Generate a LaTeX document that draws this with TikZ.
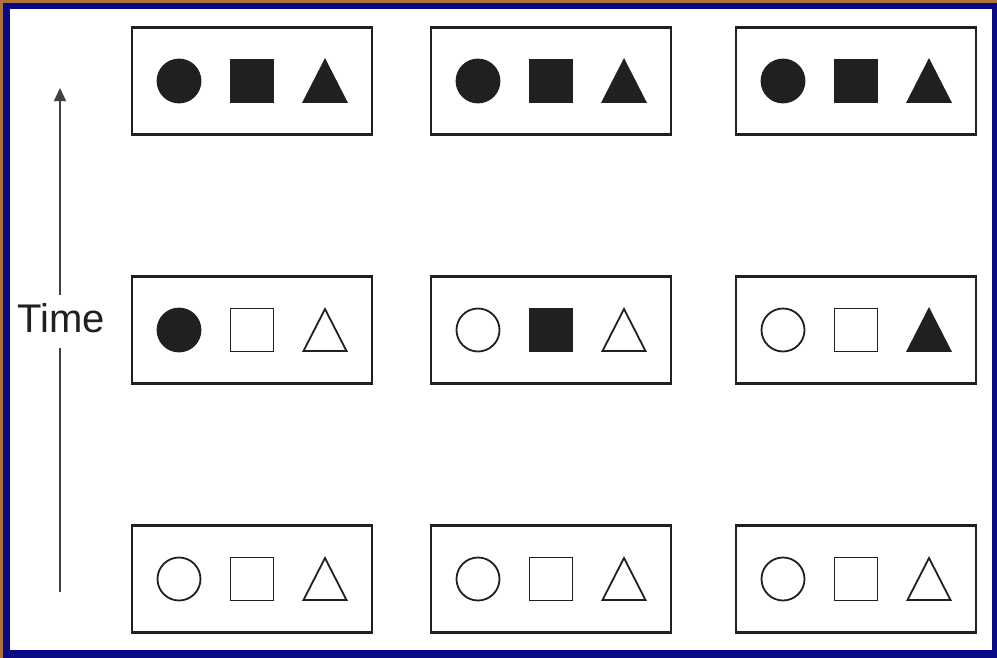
\documentclass[tikz,border=0pt]{standalone}
\usepackage{fontspec}
\setmainfont{Liberation Sans}
\usetikzlibrary{arrows.meta}
\definecolor{frameblue}{HTML}{0A0A86}
\definecolor{frameorange}{HTML}{B0733A}
\definecolor{ink}{HTML}{202020}
\begin{document}
\begin{tikzpicture}[x=1pt,y=-1pt,
  panel/.style={draw=ink,line width=2.2pt,minimum width=240pt,minimum height=107pt,inner sep=0pt},
  shp/.style={draw=ink,line width=1.8pt,inner sep=0pt},
  full/.style={fill=ink},
  empty/.style={fill=white},
  ccl/.style={shp,circle,minimum size=43pt},
  sqr/.style={shp,rectangle,minimum size=43pt},
  timelbl/.style={font=\fontsize{40}{44}\selectfont,text=ink,inner sep=0pt,text height=29pt,text depth=0pt},
  timeline/.style={draw=ink!85,line width=1.2pt}]
\useasboundingbox (0,0) rectangle (997,657);
% frame
\fill[frameblue] (-2,-2) rectangle (999,659);
\fill[frameorange] (-2,-2) rectangle (999,3);
\fill[frameorange] (-2,-2) rectangle (3,659);
\fill[white] (10,9) rectangle (992,650);
\tikzset{tri/.pic={\path[shp,pic actions] (-21.5,21) -- (0,-21) -- (21.5,21) -- cycle;}}
% panels
\foreach \cx/\nm in {252/a,551/b,856/c}{
  \foreach \cy/\r in {81/t,330/m,579/l}{
    \node[panel] (p\nm\r) at (\cx,\cy) {};
  }
}
\newcommand{\shapes}[4]{%
  \node[ccl,#2] (#1c) at ([xshift=-73pt]#1.center) {};
  \node[sqr,#3] (#1s) at (#1.center) {};
  \pic[#4] at ([xshift=73pt]#1.center) {tri};
}
\shapes{pat}{full}{full}{full}
\shapes{pbt}{full}{full}{full}
\shapes{pct}{full}{full}{full}
\shapes{pam}{full}{empty}{empty}
\shapes{pbm}{empty}{full}{empty}
\shapes{pcm}{empty}{empty}{full}
\shapes{pal}{empty}{empty}{empty}
\shapes{pbl}{empty}{empty}{empty}
\shapes{pcl}{empty}{empty}{empty}
% time arrow
\node[timelbl,anchor=base] (time) at (61,332) {Time};
\coordinate (tbot) at (60,592);
\coordinate (ttop) at (60,88);
\draw[timeline] (tbot) -- ([yshift=-16pt]time.south -| tbot);
\draw[timeline,-{Triangle[width=12pt,length=13pt]}] ([yshift=8pt]time.north -| ttop) -- (ttop);
\end{tikzpicture}
\end{document}
